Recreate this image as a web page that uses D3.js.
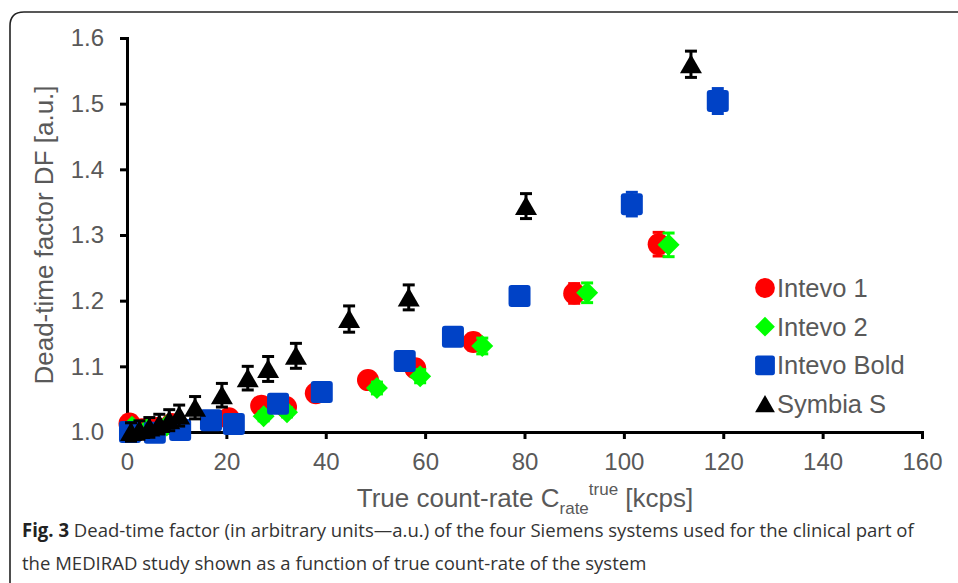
<!DOCTYPE html>
<html>
<head>
<meta charset="utf-8">
<script src="https://cdn.jsdelivr.net/npm/d3@7"></script>
<style>
  body { margin: 0; background: #fff; }
  svg { display: block; }
  .arial { font-family: Arial, "Liberation Sans", Helvetica, sans-serif; }
  .caption { font-family: "Open Sans", "Noto Sans", sans-serif; }
</style>
</head>
<body>
<svg id="chart" width="958" height="583"></svg>
<script>
// values
var xTicks = [0, 20, 40, 60, 80, 100, 120, 140, 160];
var yTicks = [1.0, 1.1, 1.2, 1.3, 1.4, 1.5, 1.6];

var intevo1X = [0.5, 3, 6, 9, 20.5, 27, 32, 38, 48.5, 58, 69.7, 90, 107];
var intevo1Y = [1.013, 1.004, 1.006, 1.012, 1.021, 1.040, 1.038, 1.059, 1.079, 1.097, 1.137, 1.211, 1.286];
var intevo1Err = [0.004, 0.004, 0.004, 0.005, 0.006, 0.007, 0.007, 0.008, 0.009, 0.010, 0.012, 0.015, 0.018];

var intevo2X = [1, 4, 8, 27.5, 32.2, 50.3, 59, 71.5, 92.6, 109];
var intevo2Y = [1.008, 1.004, 1.010, 1.024, 1.030, 1.067, 1.085, 1.131, 1.212, 1.285];
var intevo2Err = [0.004, 0.004, 0.005, 0.007, 0.007, 0.009, 0.010, 0.012, 0.015, 0.018];

var boldX = [0.6, 5.6, 10.7, 16.9, 21.5, 30.4, 39.2, 55.9, 65.6, 79, 101.6, 118.9];
var boldY = [1.000, 0.999, 1.003, 1.018, 1.012, 1.043, 1.061, 1.108, 1.145, 1.207, 1.347, 1.504];
var boldErr = [0.004, 0.004, 0.005, 0.006, 0.006, 0.007, 0.008, 0.010, 0.011, 0.013, 0.018, 0.019];

var symbiaX = [0.8, 2.5, 4.5, 6.5, 8.5, 10.5, 13.7, 19.1, 24.3, 28.4, 34, 44.7, 56.7, 80.3, 113.5];
var symbiaY = [1.000, 1.003, 1.007, 1.012, 1.018, 1.025, 1.037, 1.056, 1.082, 1.096, 1.116, 1.172, 1.205, 1.344, 1.560];
var symbiaErr = [0.014, 0.014, 0.015, 0.015, 0.016, 0.016, 0.017, 0.018, 0.018, 0.019, 0.019, 0.020, 0.019, 0.019, 0.020];

var seriesNames = ["Intevo 1", "Intevo 2", "Intevo Bold", "Symbia S"];
var seriesColors = ["#ff0000", "#00ff00", "#0042c6", "#000000"];

var captionLines = [
  ["Fig. 3", " Dead-time factor (in arbitrary units\u2014a.u.) of the four Siemens systems used for the clinical part of"],
  ["", "the MEDIRAD study shown as a function of true count-rate of the system"]
];

var svg = d3.select("#chart");
var tickGrey = "#595959";

// frame round the figure (cut off on the right and bottom)
svg.append("path")
    .attr("d", "M10,583 L10,26 Q10,12 24,12 L958,12")
    .attr("fill", "none")
    .attr("stroke", "#222")
    .attr("stroke-width", 1.6);

var x = d3.scaleLinear().domain([0, 160]).range([127, 922]);
var y = d3.scaleLinear().domain([1.0, 1.6]).range([432, 38]);

function styleAxis(g) {
  g.attr("font-family", null).attr("font-size", null);
  g.select(".domain").attr("stroke", "#000").attr("stroke-width", 3);
  g.selectAll(".tick line").attr("stroke", "#000").attr("stroke-width", 3);
  g.selectAll(".tick text")
      .attr("class", "arial")
      .attr("fill", tickGrey)
      .style("font-size", "24px");
}

svg.append("g")
    .attr("transform", "translate(0,432)")
    .call(d3.axisBottom(x).tickValues(xTicks).tickSize(7).tickPadding(14).tickFormat(d3.format("d")))
    .call(styleAxis);

svg.append("g")
    .attr("transform", "translate(127,0)")
    .call(d3.axisLeft(y).tickValues(yTicks).tickSize(7).tickPadding(16).tickFormat(d3.format(".1f")))
    .call(styleAxis);

// axis titles
svg.append("text")
    .attr("class", "arial")
    .attr("transform", "translate(53,235) rotate(-90)")
    .attr("text-anchor", "middle")
    .attr("fill", tickGrey)
    .style("font-size", "26px")
    .text("Dead-time factor DF [a.u.]");

var xt = svg.append("text")
    .attr("class", "arial")
    .attr("x", 525)
    .attr("y", 507)
    .attr("text-anchor", "middle")
    .attr("fill", tickGrey)
    .style("font-size", "26px");
xt.append("tspan").text("True count-rate C");
xt.append("tspan").attr("dy", 7).style("font-size", "17px").text("rate");
xt.append("tspan").attr("dy", -19).style("font-size", "17px").text("true");
xt.append("tspan").attr("dy", 12).text(" [kcps]");

// marker shapes
function markerPath(kind) {
  if (kind == 0) return "M-11,0 A11,11 0 1,0 11,0 A11,11 0 1,0 -11,0 Z";
  if (kind == 1) return "M0,-11 L11,0 L0,11 L-11,0 Z";
  if (kind == 2) return "M-8,-11 L8,-11 Q11,-11 11,-8 L11,8 Q11,11 8,11 L-8,11 Q-11,11 -11,8 L-11,-8 Q-11,-11 -8,-11 Z";
  return "M0,-10 L11,9 L-11,9 Z";
}

var allX = [intevo1X, intevo2X, boldX, symbiaX];
var allY = [intevo1Y, intevo2Y, boldY, symbiaY];
var allErr = [intevo1Err, intevo2Err, boldErr, symbiaErr];

allX.forEach(function(xs, s) {
  var pts = xs.map(function(v, i) { return {x: v, y: allY[s][i], e: allErr[s][i]}; });
  var g = svg.append("g").attr("class", "series");

  // error bars
  var eb = g.selectAll(".err")
    .data(pts)
    .enter().append("g")
      .attr("stroke", seriesColors[s])
      .attr("stroke-width", 3);
  eb.append("line")
      .attr("x1", function(d) { return x(d.x); })
      .attr("x2", function(d) { return x(d.x); })
      .attr("y1", function(d) { return y(d.y + d.e); })
      .attr("y2", function(d) { return y(d.y - d.e); });
  eb.append("line")
      .attr("x1", function(d) { return x(d.x) - 6; })
      .attr("x2", function(d) { return x(d.x) + 6; })
      .attr("y1", function(d) { return y(d.y + d.e); })
      .attr("y2", function(d) { return y(d.y + d.e); });
  eb.append("line")
      .attr("x1", function(d) { return x(d.x) - 6; })
      .attr("x2", function(d) { return x(d.x) + 6; })
      .attr("y1", function(d) { return y(d.y - d.e); })
      .attr("y2", function(d) { return y(d.y - d.e); });

  g.selectAll(".mark")
    .data(pts)
    .enter().append("path")
      .attr("class", "mark")
      .attr("d", markerPath(s))
      .attr("fill", seriesColors[s])
      .attr("transform", function(d) { return "translate(" + x(d.x) + "," + y(d.y) + ")"; });
});

// legend
var legend = svg.selectAll(".legend")
  .data(seriesNames)
  .enter().append("g")
    .attr("class", "legend")
    .attr("transform", function(d, i) { return "translate(765," + (288 + i * 38.7) + ")"; });

legend.append("path")
    .attr("d", function(d, i) { return markerPath(i); })
    .attr("fill", function(d, i) { return seriesColors[i]; })
    .attr("transform", "scale(0.9)");

legend.append("text")
    .attr("class", "arial")
    .attr("x", 12)
    .attr("y", 9)
    .attr("fill", tickGrey)
    .style("font-size", "25.5px")
    .text(function(d) { return d; });

// caption: the printed font is a condensed one, so squeeze both lines by the same factor
var cap = svg.append("g").attr("class", "caption");
var capText = cap.selectAll("text")
  .data(captionLines)
  .enter().append("text")
    .attr("x", 0)
    .attr("y", function(d, i) { return i * 33; })
    .attr("fill", "#333")
    .style("font-size", "19px");
capText.append("tspan")
    .style("font-weight", "bold")
    .attr("fill", "#222")
    .text(function(d) { return d[0]; });
capText.append("tspan").text(function(d) { return d[1]; });

var firstWidth = capText.node().getComputedTextLength();
var squeeze = Math.min(1, 892 / firstWidth);
cap.attr("transform", "translate(22,537) scale(" + squeeze + ",1)");
</script>
</body>
</html>
